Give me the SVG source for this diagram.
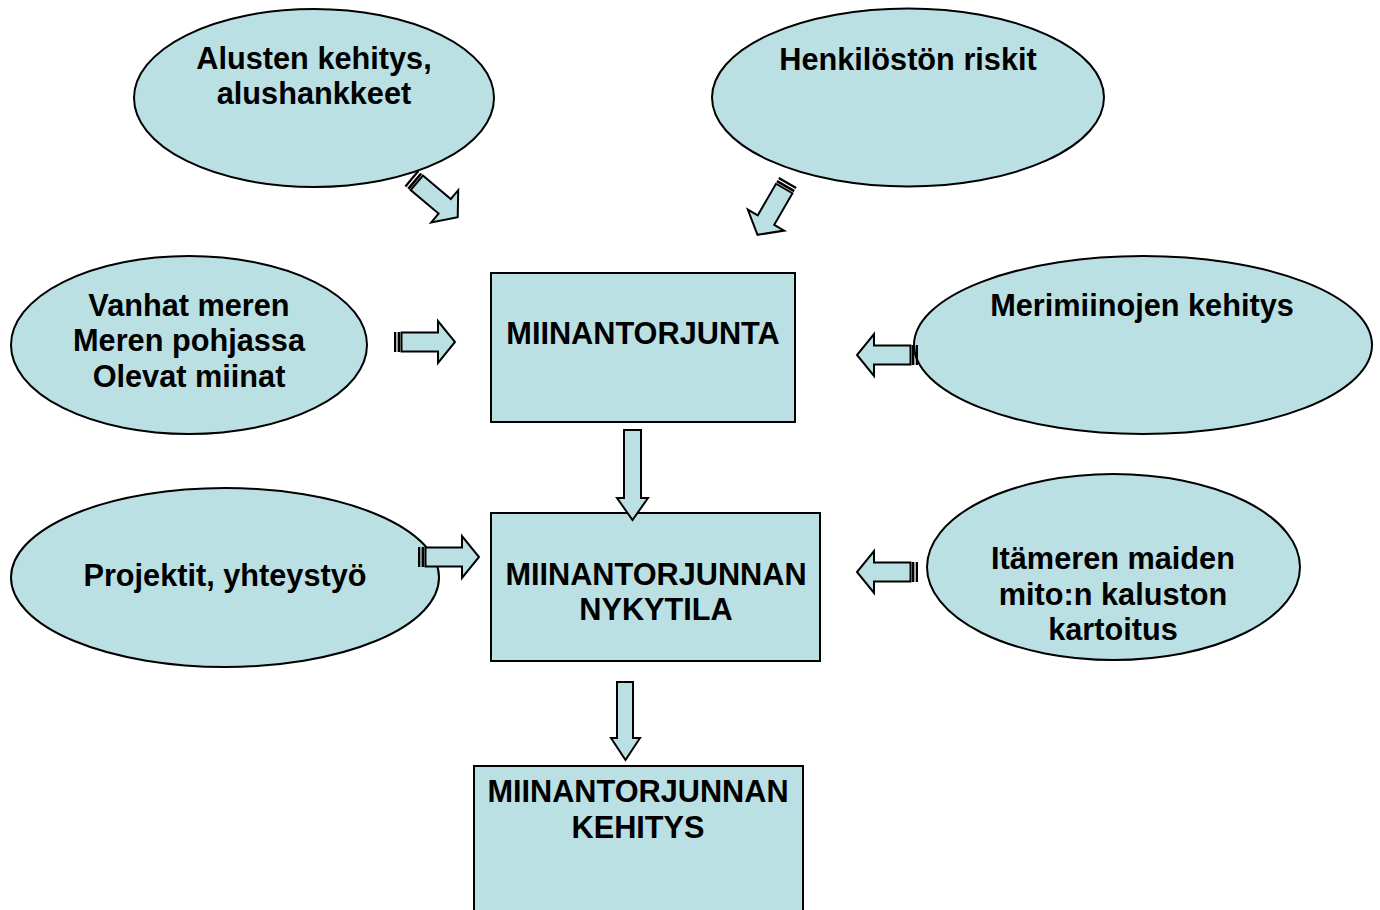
<svg xmlns="http://www.w3.org/2000/svg" xmlns:xlink="http://www.w3.org/1999/xlink" width="1380" height="910" viewBox="0 0 1380 910">
<defs>
<style>
.sh{fill:#BBE0E3;stroke:#000;stroke-width:2}
.ar{fill:#BBE0E3;stroke:#000;stroke-width:2;stroke-linejoin:miter}
.st{fill:#000}
.t{font-family:"Liberation Sans",Arial,sans-serif;font-weight:bold;font-size:30.7px;fill:#000;text-anchor:middle}
</style>
<g id="sarrow">
<rect class="st" x="0" y="-10" width="2.3" height="20"/>
<rect class="st" x="3.6" y="-10" width="2.6" height="20"/>
<path class="ar" d="M7.5,-9.5 H44 V-21 L61,0 L44,21 V9.5 H7.5 Z"/>
</g>
</defs>
<rect width="1380" height="910" fill="#fff"/>

<g id="n-alusten">
<ellipse class="sh" cx="314" cy="98" rx="180" ry="89"/>
<text class="t" x="314" y="69">Alusten kehitys,</text>
<text class="t" x="314" y="104">alushankkeet</text>
</g>
<g id="n-henkilosto">
<ellipse class="sh" cx="908" cy="97.5" rx="196" ry="89"/>
<text class="t" x="908" y="69.5">Henkilöstön riskit</text>
</g>
<g id="n-vanhat">
<ellipse class="sh" cx="189" cy="345" rx="178" ry="89"/>
<text class="t" x="189" y="315.5">Vanhat meren</text>
<text class="t" x="189" y="351">Meren pohjassa</text>
<text class="t" x="189" y="387">Olevat miinat</text>
</g>
<g id="n-merimiinat">
<ellipse class="sh" cx="1143" cy="345" rx="229" ry="89"/>
<text class="t" x="1142" y="316">Merimiinojen kehitys</text>
</g>
<g id="n-projektit">
<ellipse class="sh" cx="225" cy="577.5" rx="214" ry="89.5"/>
<text class="t" x="225" y="586">Projektit, yhteystyö</text>
</g>
<g id="n-itameri">
<ellipse class="sh" cx="1113.5" cy="567" rx="186.5" ry="93"/>
<text class="t" x="1113" y="569">Itämeren maiden</text>
<text class="t" x="1113" y="605">mito:n kaluston</text>
<text class="t" x="1113" y="640">kartoitus</text>
</g>
<g id="n-miinantorjunta">
<rect class="sh" x="491" y="273" width="304" height="149"/>
<text class="t" x="643" y="344">MIINANTORJUNTA</text>
</g>
<g id="n-nykytila">
<rect class="sh" x="491" y="513" width="329" height="148"/>
<text class="t" x="656" y="585">MIINANTORJUNNAN</text>
<text class="t" x="656" y="620">NYKYTILA</text>
</g>
<g id="n-kehitys">
<rect class="sh" x="474" y="766" width="329" height="170"/>
<text class="t" x="638" y="802">MIINANTORJUNNAN</text>
<text class="t" x="638" y="838">KEHITYS</text>
</g>

<g id="connectors">
<use xlink:href="#sarrow" transform="translate(411,178) rotate(40)"/>
<use xlink:href="#sarrow" transform="translate(788,182) rotate(120)"/>
<use xlink:href="#sarrow" transform="translate(394,342)"/>
<use xlink:href="#sarrow" transform="translate(918,355) rotate(180)"/>
<use xlink:href="#sarrow" transform="translate(418,557)"/>
<use xlink:href="#sarrow" transform="translate(918,572) rotate(180)"/>
<path class="ar" d="M624,430 H641 V498 H648 L632.5,520 L617,498 H624 Z"/>
<path class="ar" d="M617,682 H633 V738 H640 L625.5,760 L611,738 H617 Z"/>
</g>
</svg>
